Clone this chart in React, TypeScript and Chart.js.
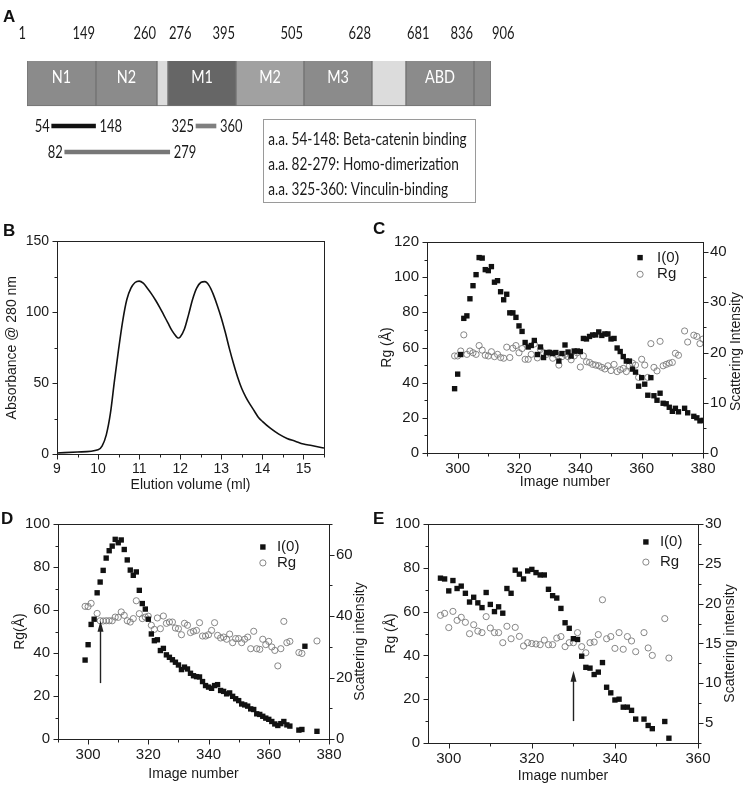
import React, { useEffect, useRef } from 'react';
import { Chart, registerables, LinearScale } from 'chart.js';

Chart.register(...registerables);

const FONT = '"Liberation Sans", Arial, Helvetica, sans-serif';
const CAL = 'Lato, "Open Sans", sans-serif';
const TEXT = '#1a1a1a';

// ---------------- Panel A: domain schematic ----------------
const domainNames = ['N1', 'N2', '', 'M1', 'M2', 'M3', '', 'ABD', ''];
const domainStarts = [1, 149, 260, 276, 395, 505, 628, 681, 836];
const domainEnds = [149, 260, 276, 395, 505, 628, 681, 836, 906];
const domainColors = ['#8b8b8b', '#8b8b8b', '#dcdcdc', '#666666', '#a1a1a1', '#8b8b8b', '#dcdcdc', '#8b8b8b', '#8b8b8b'];
const boundaryLabels = [1, 149, 260, 276, 395, 505, 628, 681, 836, 906];
const boundaryAlign = ['right', 'right', 'right', 'left', 'right', 'right', 'right', 'left', 'right', 'left'];
const rowLabels = ['domain', 'spacer', 'row1', 'row2'];
const regionStarts = [54, 325, 82];
const regionEnds = [148, 360, 279];
const regionRows = ['row1', 'row1', 'row2'];
const regionColors = ['#111111', '#7f7f7f', '#777777'];
const regionNotes = ['a.a. 54-148: Beta-catenin binding', 'a.a. 82-279: Homo-dimerization', 'a.a. 325-360: Vinculin-binding'];

// schematic (not-to-scale) residue axis
const schematicResidues = [1, 149, 260, 276, 395, 505, 628, 681, 836, 906];
const schematicFractions = [0, 0.1487, 0.2802, 0.3039, 0.4504, 0.597, 0.7435, 0.8168, 0.9634, 1];

// ---------------- Panel B: elution profile ----------------
const bVolume = [9, 9.5, 10, 10.1, 10.2, 10.3, 10.4, 10.5, 10.6, 10.7, 10.8, 10.9, 11.0, 11.1, 11.2, 11.3, 11.4, 11.5, 11.6, 11.7, 11.8, 11.9, 11.95, 12.0, 12.1, 12.2, 12.3, 12.4, 12.5, 12.6, 12.7, 12.8, 12.9, 13.0, 13.1, 13.2, 13.3, 13.4, 13.5, 13.6, 13.7, 13.8, 13.9, 14.0, 14.2, 14.4, 14.6, 14.8, 15.0, 15.2, 15.5];
const bAbsorbance = [0.7, 1.4, 3, 5.8, 13.5, 28.6, 52, 74, 94, 109, 117, 121, 122, 120.5, 117, 113, 108.5, 103.5, 98, 92.5, 87, 83, 81.8, 82.6, 88, 98, 109, 117, 121, 121.6, 119, 113, 105, 96, 85.5, 74, 63.5, 54, 46, 40, 35, 30.5, 26, 23, 18, 14, 11, 9, 7, 6, 4.2];

// ---------------- Panel C ----------------
const cImage = [299, 300, 301, 302, 303, 304, 305, 306, 307, 308, 309, 310, 311, 312, 313, 314, 315, 316, 317, 318, 319, 320, 321, 322, 323, 324, 325, 326, 327, 328, 329, 330, 331, 332, 333, 334, 335, 336, 337, 338, 339, 340, 341, 342, 343, 344, 345, 346, 347, 348, 349, 350, 351, 352, 353, 354, 355, 356, 357, 358, 359, 360, 361, 362, 363, 364, 365, 366, 367, 368, 369, 370, 371, 372, 374, 375, 377, 378, 379, 380];
const cI0 = [12.8, 15.7, 19.6, 26.8, 27.3, 30.7, 33.3, 35.5, 38.9, 38.8, 36.5, 36.3, 37.1, 34.0, 34.3, 32.1, 30.5, 31.6, 27.9, 27.9, 27.0, 25.3, 24.2, 22.0, 21.1, 21.4, 22.4, 19.6, 21.1, 19.0, 20.0, 20.0, 19.8, 20.0, 18.3, 19.8, 21.5, 20.1, 19.3, 20.3, 20.3, 20.2, 22.8, 22.7, 23.2, 23.5, 23.5, 24.1, 23.4, 23.7, 23.7, 22.7, 22.8, 20.9, 20.2, 19.2, 18.3, 18.3, 16.7, 16.1, 13.3, 15.0, 13.7, 11.5, 15.0, 11.4, 10.5, 11.9, 9.9, 9.8, 9.1, 8.3, 8.9, 8.2, 8.9, 8.0, 7.3, 7.0, 6.4, 6.5];
const cRg = [55.2, 55.2, 58.0, 67.2, 56.1, 58.0, 57.0, 56.1, 61.1, 58.5, 55.6, 55.2, 57.6, 54.8, 56.1, 54.3, 53.9, 60.2, 54.3, 59.6, 61.1, 57.0, 59.4, 53.3, 53.3, 56.1, 62.0, 54.1, 58.9, 57.0, 56.1, 57.0, 53.9, 56.1, 50.0, 54.8, 56.1, 54.8, 53.0, 55.2, 57.0, 48.9, 55.2, 51.9, 51.5, 50.4, 50.0, 49.6, 48.7, 47.8, 49.6, 46.9, 50.4, 46.3, 47.4, 48.1, 46.3, 49.6, 51.1, 50.0, 43.0, 53.3, 50.0, 43.0, 62.2, 48.7, 46.7, 63.5, 49.6, 50.4, 51.1, 51.5, 56.7, 55.6, 69.4, 63.1, 67.0, 66.3, 62.2, 64.8];

// ---------------- Panel D ----------------
const dI0Image = [299, 300, 301, 302, 303, 304, 305, 306, 307, 308, 309, 310, 311, 312, 313, 314, 315, 316, 317, 318, 319, 320, 321, 322, 323, 324, 325, 326, 327, 328, 329, 330, 331, 332, 333, 334, 335, 336, 337, 338, 339, 340, 341, 342, 343, 344, 345, 346, 347, 348, 349, 350, 351, 352, 353, 354, 355, 356, 357, 358, 359, 360, 361, 362, 363, 364, 365, 366, 367, 370, 371, 372, 376];
const dI0 = [25.7, 30.7, 37.3, 39.0, 47.6, 51.1, 54.9, 58.9, 61.3, 62.8, 65.0, 63.9, 64.8, 61.7, 58.3, 55.0, 53.3, 54.4, 48.4, 44.1, 42.3, 39.0, 34.2, 32.0, 32.3, 28.8, 29.5, 27.4, 26.6, 25.8, 25.0, 24.1, 22.6, 23.4, 22.8, 21.4, 20.6, 20.3, 20.2, 18.7, 17.4, 16.9, 16.5, 17.4, 17.7, 15.8, 15.5, 14.7, 15.0, 13.9, 13.1, 12.5, 11.4, 11.1, 10.7, 9.8, 9.6, 8.2, 8.0, 7.4, 6.8, 6.4, 5.7, 4.9, 4.4, 5.0, 5.7, 4.6, 4.2, 2.9, 3.1, 30.2, 2.5];
const dRgImage = [299, 300, 301, 303, 304, 305, 306, 307, 308, 309, 310, 311, 312, 313, 314, 315, 316, 317, 318, 319, 320, 321, 322, 323, 324, 325, 326, 327, 328, 329, 330, 331, 332, 333, 334, 335, 336, 337, 338, 339, 340, 341, 342, 343, 344, 345, 346, 347, 348, 349, 350, 351, 352, 353, 354, 355, 356, 357, 358, 359, 360, 361, 362, 363, 364, 365, 366, 367, 370, 371, 376];
const dRg = [61.7, 61.6, 63.1, 58.4, 55.0, 54.9, 55.0, 55.0, 55.0, 56.7, 56.6, 59.1, 57.5, 55.0, 54.4, 56.0, 64.3, 58.3, 56.0, 56.7, 57.1, 52.9, 51.0, 56.3, 51.3, 57.2, 53.8, 54.4, 54.4, 51.6, 51.3, 48.5, 53.8, 52.9, 49.5, 50.1, 50.5, 54.1, 47.9, 47.9, 48.5, 50.5, 54.1, 48.2, 47.0, 47.4, 46.4, 48.8, 44.8, 46.7, 46.7, 44.8, 46.4, 47.4, 42.0, 50.1, 42.0, 41.7, 46.4, 43.9, 45.4, 42.8, 41.2, 34.0, 42.0, 54.7, 44.8, 45.4, 40.2, 39.8, 45.6];
const dArrowImage = 304;
const dArrowRg = [26, 55];

// ---------------- Panel E ----------------
const eImage = [298, 299, 300, 301, 302, 303, 304, 305, 306, 307, 308, 309, 310, 311, 312, 313, 314, 315, 316, 317, 318, 319, 320, 321, 322, 323, 324, 325, 326, 327, 328, 329, 330, 331, 332, 333, 334, 335, 336, 337, 338, 339, 340, 341, 342, 343, 344, 345, 347, 348, 349, 352, 353];
const eI0 = [23.2, 23.1, 21.6, 22.9, 21.9, 22.2, 21.3, 20.2, 20.8, 20.1, 19.5, 21.4, 19.9, 19.0, 19.6, 18.8, 21.9, 21.3, 24.2, 23.7, 23.1, 24.1, 24.3, 23.9, 23.6, 23.6, 21.8, 21.0, 20.7, 19.4, 17.6, 16.9, 15.6, 15.5, 13.4, 12.0, 11.9, 11.1, 11.4, 12.6, 9.5, 8.8, 7.9, 8.0, 7.0, 7.0, 6.6, 5.5, 5.5, 4.7, 4.3, 5.2, 3.1];
const eRg = [58.3, 59.2, 52.7, 60.1, 56.0, 57.4, 55.1, 49.9, 54.0, 51.1, 50.4, 57.7, 52.5, 50.4, 50.4, 45.8, 53.3, 47.6, 52.8, 48.7, 44.3, 45.8, 45.4, 45.2, 44.9, 47.0, 44.9, 44.9, 47.9, 48.6, 44.0, 45.8, 45.8, 50.4, 44.0, 41.2, 45.8, 46.1, 49.5, 65.4, 47.6, 48.6, 43.2, 50.4, 42.8, 48.6, 46.6, 41.7, 50.4, 43.4, 40.0, 56.8, 38.8];
const eArrowImage = 330;
const eArrowRg = [10, 33];

// ---------------- helpers ----------------
function residueToFraction(v: number) {
  const k = schematicResidues, f = schematicFractions;
  if (v <= k[0]) return f[0];
  for (let i = 1; i < k.length; i++) {
    if (v <= k[i]) return f[i - 1] + ((v - k[i - 1]) / (k[i] - k[i - 1])) * (f[i] - f[i - 1]);
  }
  return f[f.length - 1];
}
function fractionToResidue(d: number) {
  const k = schematicResidues, f = schematicFractions;
  if (d <= f[0]) return k[0];
  for (let i = 1; i < f.length; i++) {
    if (d <= f[i]) return k[i - 1] + ((d - f[i - 1]) / (f[i] - f[i - 1])) * (k[i] - k[i - 1]);
  }
  return k[k.length - 1];
}

class SchematicScale extends (LinearScale as any) {
  static id = 'schematic';
  static defaults = {};
  getPixelForValue(value: number) {
    return this.getPixelForDecimal(residueToFraction(value));
  }
  getValueForPixel(pixel: number) {
    return fractionToResidue(this.getDecimalForPixel(pixel));
  }
}
Chart.register(SchematicScale as any);

function squeezedText(ctx: CanvasRenderingContext2D, text: string, x: number, y: number, align: CanvasTextAlign, font: string, color: string, squeeze: number) {
  ctx.save();
  ctx.font = font;
  ctx.fillStyle = color;
  ctx.textBaseline = 'middle';
  ctx.translate(x, y);
  ctx.scale(squeeze, 1);
  ctx.textAlign = align;
  ctx.fillText(text, 0, 0);
  ctx.restore();
}

const panelAPlugin = {
  id: 'panelA',
  afterDatasetsDraw(chart: any) {
    const { ctx, chartArea: ca } = chart;
    const xs = chart.scales.x;
    const dom = chart.getDatasetMeta(0).data;
    const reg = chart.getDatasetMeta(1).data;
    const numFont = `18px ${CAL}`;
    // domain names
    dom.forEach((el: any, i: number) => {
      if (!domainNames[i]) return;
      squeezedText(ctx, domainNames[i], (el.x + el.base) / 2, el.y + 3, 'center', `18px ${CAL}`, '#ffffff', 0.8);
    });
    // boundary residue numbers
    const barTop = dom[0].y - dom[0].height / 2;
    boundaryLabels.forEach((v, i) => {
      const px = xs.getPixelForValue(v);
      const al = boundaryAlign[i] as CanvasTextAlign;
      squeezedText(ctx, String(v), al === 'right' ? px - 1 : px + 1, barTop - 9, al, numFont, TEXT, 0.72);
    });
    // region end labels
    reg.forEach((el: any, i: number) => {
      const l = Math.min(el.x, el.base), r = Math.max(el.x, el.base);
      squeezedText(ctx, String(regionStarts[i]), l - 2, el.y, 'right', numFont, TEXT, 0.72);
      squeezedText(ctx, String(regionEnds[i]), r + 4, el.y, 'left', numFont, TEXT, 0.72);
    });
    // notes box
    const w = ca.right - ca.left;
    const bx = ca.left + 0.509 * w, bw = 0.457 * w;
    const row1 = reg[0].y;
    const by = row1 - 7;
    const bh = 83;
    ctx.save();
    ctx.strokeStyle = '#9a9a9a';
    ctx.lineWidth = 1;
    ctx.strokeRect(Math.round(bx) + 0.5, Math.round(by) + 0.5, Math.round(bw), bh);
    ctx.restore();
    regionNotes.forEach((t, i) => {
      squeezedText(ctx, t, bx + 5, by + 21 + i * 25, 'left', `17px ${CAL}`, TEXT, 0.8);
    });
  },
};

type TickSpec = { id: string; major: number; minor: number; side: 'bottom' | 'left' | 'right' };
type DecorCfg = {
  ticks: TickSpec[];
  rightTitle?: { text: string; dx: number; dy: number };
  legend?: { x: number; y: number[]; dx: number };
  arrow?: { x: number; from: number; to: number; axis: string };
};

function makeDecor(cfg: DecorCfg) {
  return {
    id: 'decor',
    afterDraw(chart: any) {
      const { ctx, chartArea: ca } = chart;
      const L = Math.round(ca.left) + 0.5, R = Math.round(ca.right) + 0.5, T = Math.round(ca.top) + 0.5, B = Math.round(ca.bottom) + 0.5;
      ctx.save();
      ctx.strokeStyle = '#222';
      ctx.lineWidth = 1;
      ctx.strokeRect(L, T, R - L, B - T);
      ctx.beginPath();
      for (const t of cfg.ticks) {
        const sc = chart.scales[t.id];
        const start = Math.ceil(sc.min / t.minor - 1e-9) * t.minor;
        for (let v = start; v <= sc.max + 1e-9; v += t.minor) {
          const q = v / t.major;
          const major = Math.abs(q - Math.round(q)) < 1e-6;
          const len = major ? 5 : 3;
          const p = Math.round(sc.getPixelForValue(v)) + 0.5;
          if (t.side === 'bottom') { ctx.moveTo(p, B); ctx.lineTo(p, B + len); }
          else if (t.side === 'left') { ctx.moveTo(L, p); ctx.lineTo(L - len, p); }
          else { ctx.moveTo(R, p); ctx.lineTo(R + len, p); }
        }
      }
      ctx.stroke();
      if (cfg.rightTitle) {
        const sc = chart.scales.yR;
        ctx.save();
        ctx.translate(sc.right - cfg.rightTitle.dx, (ca.top + ca.bottom) / 2 + cfg.rightTitle.dy);
        ctx.rotate(-Math.PI / 2);
        ctx.font = `14px ${FONT}`;
        ctx.fillStyle = TEXT;
        ctx.textAlign = 'center';
        ctx.textBaseline = 'middle';
        ctx.fillText(cfg.rightTitle.text, 0, 0);
        ctx.restore();
      }
      if (cfg.legend) {
        const lg = cfg.legend;
        const x = ca.left + lg.x * (ca.right - ca.left);
        chart.data.datasets.forEach((ds: any, i: number) => {
          const y = ca.top + lg.y[i] * (ca.bottom - ca.top);
          if (ds.pointStyle === 'rect') {
            ctx.fillStyle = ds.backgroundColor;
            ctx.fillRect(x - 2.7, y - 2.7, 5.4, 5.4);
          } else {
            ctx.strokeStyle = ds.borderColor;
            ctx.lineWidth = ds.borderWidth;
            ctx.beginPath();
            ctx.arc(x, y, ds.pointRadius, 0, Math.PI * 2);
            ctx.stroke();
          }
          ctx.font = `15px ${FONT}`;
          ctx.fillStyle = TEXT;
          ctx.textAlign = 'left';
          ctx.textBaseline = 'middle';
          ctx.fillText(ds.label, x + lg.dx, y);
        });
      }
      if (cfg.arrow) {
        const a = cfg.arrow;
        const xs = chart.scales.x, ys = chart.scales[a.axis];
        const x = Math.round(xs.getPixelForValue(a.x)) + 0.5;
        const y0 = ys.getPixelForValue(a.from), y1 = ys.getPixelForValue(a.to);
        ctx.strokeStyle = '#222';
        ctx.lineWidth = 1.4;
        ctx.beginPath();
        ctx.moveTo(x, y0);
        ctx.lineTo(x, y1 + 8);
        ctx.stroke();
        ctx.fillStyle = '#222';
        ctx.beginPath();
        ctx.moveTo(x, y1);
        ctx.lineTo(x - 3, y1 + 11);
        ctx.lineTo(x + 3, y1 + 11);
        ctx.closePath();
        ctx.fill();
      }
      ctx.restore();
    },
  };
}

function xAxis(min: number, max: number, step: number, title: string, height: number, padBottom: number, tickSize: number) {
  return {
    type: 'linear', position: 'bottom', min, max,
    grid: { display: false, drawTicks: false }, border: { display: false },
    ticks: { stepSize: step, includeBounds: false, padding: 7, color: TEXT, font: { family: FONT, size: tickSize }, maxRotation: 0, autoSkip: false },
    title: { display: true, text: title, color: TEXT, font: { family: FONT, size: 14 }, padding: { top: 0, bottom: padBottom } },
    afterFit: (s: any) => { s.height = height; },
  };
}
function yAxis(position: string, min: number, max: number, step: number, width: number, tickSize: number, title?: string, padTop?: number) {
  return {
    type: 'linear', position, min, max,
    grid: { display: false, drawTicks: false }, border: { display: false },
    ticks: { stepSize: step, includeBounds: false, padding: position === 'left' ? 8 : 7, color: TEXT, font: { family: FONT, size: tickSize }, autoSkip: false },
    title: title ? { display: true, text: title, color: TEXT, font: { family: FONT, size: 14 }, padding: { top: padTop, bottom: 0 } } : { display: false },
    afterFit: (s: any) => { s.width = width; },
  };
}

function pts(xs: number[], ys: number[]) {
  return xs.map((x, i) => ({ x, y: ys[i] }));
}
function i0Set(xs: number[], ys: number[]) {
  return { label: 'I(0)', data: pts(xs, ys), yAxisID: 'yR', pointStyle: 'rect', pointRadius: 3.8, backgroundColor: '#111111', borderColor: '#111111', borderWidth: 0 };
}
function rgSet(xs: number[], ys: number[]) {
  return { label: 'Rg', data: pts(xs, ys), yAxisID: 'yL', pointStyle: 'circle', pointRadius: 3.1, backgroundColor: 'rgba(255,255,255,0)', borderColor: '#7a7a7a', borderWidth: 0.9 };
}
const baseOpts = { animation: false, responsive: false, events: [], plugins: { legend: { display: false }, tooltip: { enabled: false } } };

function configA() {
  return {
    type: 'bar',
    data: {
      labels: rowLabels,
      datasets: [
        {
          label: 'domains',
          data: domainStarts.map((s, i) => ({ x: [s, domainEnds[i]], y: 'domain' })),
          backgroundColor: domainColors, borderColor: '#727272', borderWidth: 1, borderSkipped: false,
          barThickness: 64, grouped: false,
        },
        {
          label: 'regions',
          data: regionStarts.map((s, i) => ({ x: [s, regionEnds[i]], y: regionRows[i] })),
          backgroundColor: regionColors, borderWidth: 0, barThickness: 4, grouped: false,
        },
      ],
    },
    options: {
      ...baseOpts,
      indexAxis: 'y',
      layout: { padding: { left: 27, right: 253, top: 61, bottom: 45 } },
      scales: {
        x: { type: 'schematic', min: 1, max: 906, display: false },
        y: { type: 'category', display: false, offset: true },
      },
    },
    plugins: [panelAPlugin],
  };
}

function configB() {
  return {
    type: 'scatter',
    data: {
      datasets: [{ label: 'A280', data: pts(bVolume, bAbsorbance), showLine: true, pointRadius: 0, borderColor: '#111', borderWidth: 1.6, cubicInterpolationMode: 'monotone' }],
    },
    options: {
      ...baseOpts,
      layout: { padding: { left: 0, right: 46, top: 13, bottom: 0 } },
      scales: {
        x: xAxis(9, 15.5, 1, 'Elution volume (ml)', 46, 6, 14),
        y: yAxis('left', 0, 150, 50, 57, 14, 'Absorbance @ 280 nm', 4),
      },
    },
    plugins: [makeDecor({ ticks: [{ id: 'x', major: 1, minor: 0.5, side: 'bottom' }, { id: 'y', major: 50, minor: 25, side: 'left' }] })],
  };
}

function configC() {
  return {
    type: 'scatter',
    data: { datasets: [i0Set(cImage, cI0), rgSet(cImage, cRg)] },
    options: {
      ...baseOpts,
      layout: { padding: { left: 0, right: 0, top: 12, bottom: 0 } },
      scales: {
        x: xAxis(290, 380, 20, 'Image number', 47, 9, 15),
        yL: yAxis('left', 0, 120, 20, 57, 15, 'Rg (Å)', 9),
        yR: yAxis('right', 0, 42, 10, 41, 15),
      },
    },
    plugins: [makeDecor({
      ticks: [{ id: 'x', major: 20, minor: 10, side: 'bottom' }, { id: 'yL', major: 20, minor: 10, side: 'left' }, { id: 'yR', major: 10, minor: 5, side: 'right' }],
      rightTitle: { text: 'Scattering Intensity', dx: 8, dy: 4 },
      legend: { x: 0.772, y: [0.074, 0.153], dx: 17 },
    })],
  };
}

function configD() {
  return {
    type: 'scatter',
    data: { datasets: [i0Set(dI0Image, dI0), rgSet(dRgImage, dRg)] },
    options: {
      ...baseOpts,
      layout: { padding: { left: 0, right: 0, top: 19, bottom: 0 } },
      scales: {
        x: xAxis(290, 380, 20, 'Image number', 46, 2, 15),
        yL: yAxis('left', 0, 100, 20, 58, 15, 'Rg(Å)', 12),
        yR: yAxis('right', 0, 70, 20, 41, 15),
      },
    },
    plugins: [makeDecor({
      ticks: [{ id: 'x', major: 20, minor: 10, side: 'bottom' }, { id: 'yL', major: 20, minor: 10, side: 'left' }, { id: 'yR', major: 20, minor: 10, side: 'right' }],
      rightTitle: { text: 'Scattering intensity', dx: 10, dy: 10 },
      legend: { x: 0.756, y: [0.107, 0.181], dx: 14 },
      arrow: { x: dArrowImage, from: dArrowRg[0], to: dArrowRg[1], axis: 'yL' },
    })],
  };
}

function configE() {
  return {
    type: 'scatter',
    data: { datasets: [i0Set(eImage, eI0), rgSet(eImage, eRg)] },
    options: {
      ...baseOpts,
      layout: { padding: { left: 0, right: 0, top: 19, bottom: 0 } },
      scales: {
        x: xAxis(295, 360, 20, 'Image number', 42, 0, 15),
        yL: yAxis('left', 0, 100, 20, 58, 15, 'Rg (Å)', 13),
        yR: yAxis('right', 2.5, 30, 5, 46, 15),
      },
    },
    plugins: [makeDecor({
      ticks: [{ id: 'x', major: 20, minor: 10, side: 'bottom' }, { id: 'yL', major: 20, minor: 10, side: 'left' }, { id: 'yR', major: 5, minor: 2.5, side: 'right' }],
      rightTitle: { text: 'Scattering intensity', dx: 14, dy: 10 },
      legend: { x: 0.807, y: [0.082, 0.174], dx: 14 },
      arrow: { x: eArrowImage, from: eArrowRg[0], to: eArrowRg[1], axis: 'yL' },
    })],
  };
}

function ChartBox(props: { make: () => any; left: number; top: number; width: number; height: number }) {
  const ref = useRef<HTMLCanvasElement>(null);
  useEffect(() => {
    const chart = new Chart(ref.current as HTMLCanvasElement, props.make());
    return () => chart.destroy();
  }, []);
  return (
    <canvas
      ref={ref}
      width={props.width}
      height={props.height}
      style={{ position: 'absolute', left: props.left, top: props.top, width: props.width, height: props.height }}
    />
  );
}

function Letter(props: { t: string; left: number; top: number }) {
  return (
    <div style={{ position: 'absolute', left: props.left, top: props.top, fontFamily: FONT, fontWeight: 'bold', fontSize: 17, lineHeight: 1, color: '#111' }}>
      {props.t}
    </div>
  );
}

export default function App() {
  return (
    <div style={{ position: 'absolute', left: 0, top: 0, width: 744, height: 785, background: '#fff', overflow: 'hidden' }}>
      <ChartBox make={configA} left={0} top={0} width={744} height={210} />
      <ChartBox make={configB} left={0} top={225} width={370} height={275} />
      <ChartBox make={configC} left={370} top={225} width={374} height={275} />
      <ChartBox make={configD} left={0} top={505} width={370} height={280} />
      <ChartBox make={configE} left={370} top={505} width={374} height={280} />
      <Letter t="A" left={3} top={8} />
      <Letter t="B" left={3} top={222} />
      <Letter t="C" left={373} top={220} />
      <Letter t="D" left={1} top={510} />
      <Letter t="E" left={373} top={510} />
    </div>
  );
}
